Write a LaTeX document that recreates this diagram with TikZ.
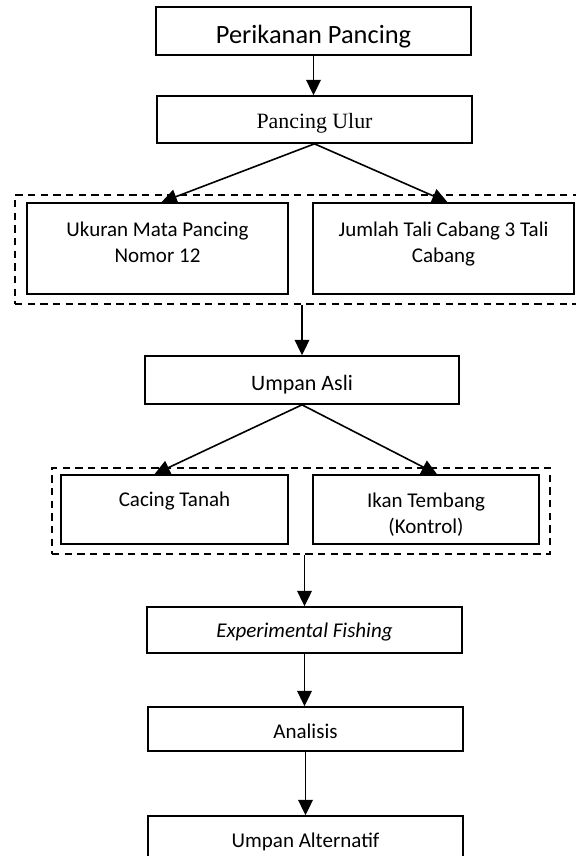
\documentclass[tikz,border=0pt]{standalone}
\usepackage{fontspec}
\setmainfont{Carlito}
\newfontfamily\ulurfont{Liberation Serif}
\usetikzlibrary{shapes,calc,arrows.meta}

\newdimen\pxu
\pxu=0.75pt

\tikzset{
  box/.style={draw, rectangle, line width=1.25pt, inner xsep=0pt, inner ysep=0pt, align=center,
    font=\fontsize{15.75}{19.3}\selectfont},
  groupbox/.style={draw, rectangle, line width=1.25pt, dash pattern=on 5.5pt off 4pt, inner sep=0pt},
  flow/.style={line width=1.2pt, -{Triangle[width=11pt,length=11.5pt]}}
}

\begin{document}
\begin{tikzpicture}[x=0.75pt, y=-0.75pt]
  % \draw[step=50,thin,gray!40] (0,0) grid (575,856);
  \path[use as bounding box, fill=white] (0,0) rectangle (575,856);

  \node[box, minimum width=315\pxu, text height=37\pxu, text depth=11\pxu, font=\fontsize{19.8}{24}\selectfont] (perikananNode) at (313.5,31) {Perikanan Pancing};
  \node[box, minimum width=315\pxu, text height=32\pxu, text depth=15\pxu, font={\ulurfont\fontsize{16.4}{20}\selectfont}] (ulurNode) at (314.5,119.5) {Pancing Ulur};

  \node[groupbox, minimum width=570\pxu, minimum height=109\pxu] (groupANode) at (300,249.5) {};
  \node[box, minimum width=261\pxu, text height=59\pxu, text depth=32\pxu] (ukuranNode) at (157.5,248.5) {Ukuran Mata Pancing\\Nomor 12};
  \node[box, minimum width=261\pxu, text height=59\pxu, text depth=32\pxu] (jumlahNode) at (443.5,248.5) {Jumlah Tali Cabang 3 Tali\\Cabang};

  \node[box, minimum width=314\pxu, text height=34\pxu, text depth=14\pxu, font=\fontsize{16.5}{20}\selectfont] (asliNode) at (302,380) {Umpan Asli};

  \node[groupbox, minimum width=498\pxu, minimum height=86\pxu] (groupBNode) at (301,511) {};
  \node[box, minimum width=227\pxu, text height=31\pxu, text depth=38\pxu] (cacingNode) at (174.5,509.5) {Cacing Tanah};
  \node[box, minimum width=226\pxu, text height=58\pxu, text depth=11\pxu] (ikanNode) at (426,509.5) {Ikan Tembang\\(Kontrol)};

  \node[box, minimum width=315\pxu, text height=30\pxu, text depth=16\pxu] (expNode) at (304.5,630) {\textit{Experimental Fishing}};
  \node[box, minimum width=315\pxu, text height=31\pxu, text depth=13\pxu] (analisisNode) at (305.5,729) {Analisis};
  \node[box, minimum width=315\pxu, text height=31\pxu, text depth=17\pxu] (alternatifNode) at (305.5,840) {Umpan Alternatif};

  \draw[flow] (perikananNode.south) -- (perikananNode.south |- ulurNode.north);
  \draw[flow] (ulurNode.south) -- ([xshift=3pt]ukuranNode.north);
  \draw[flow] (ulurNode.south) -- ([xshift=3pt]jumlahNode.north);
  \draw[flow] (asliNode.north |- groupANode.south) -- (asliNode.north);
  \draw[flow] (asliNode.south) -- ([xshift=-15pt]cacingNode.north);
  \draw[flow] (asliNode.south) -- ([xshift=8.25pt]ikanNode.north);
  \draw[flow] (expNode.north |- groupBNode.south) -- (expNode.north);
  \draw[flow] (expNode.south) -- (expNode.south |- analisisNode.north);
  \draw[flow] (analisisNode.south) -- (alternatifNode.north);
\end{tikzpicture}
\end{document}
